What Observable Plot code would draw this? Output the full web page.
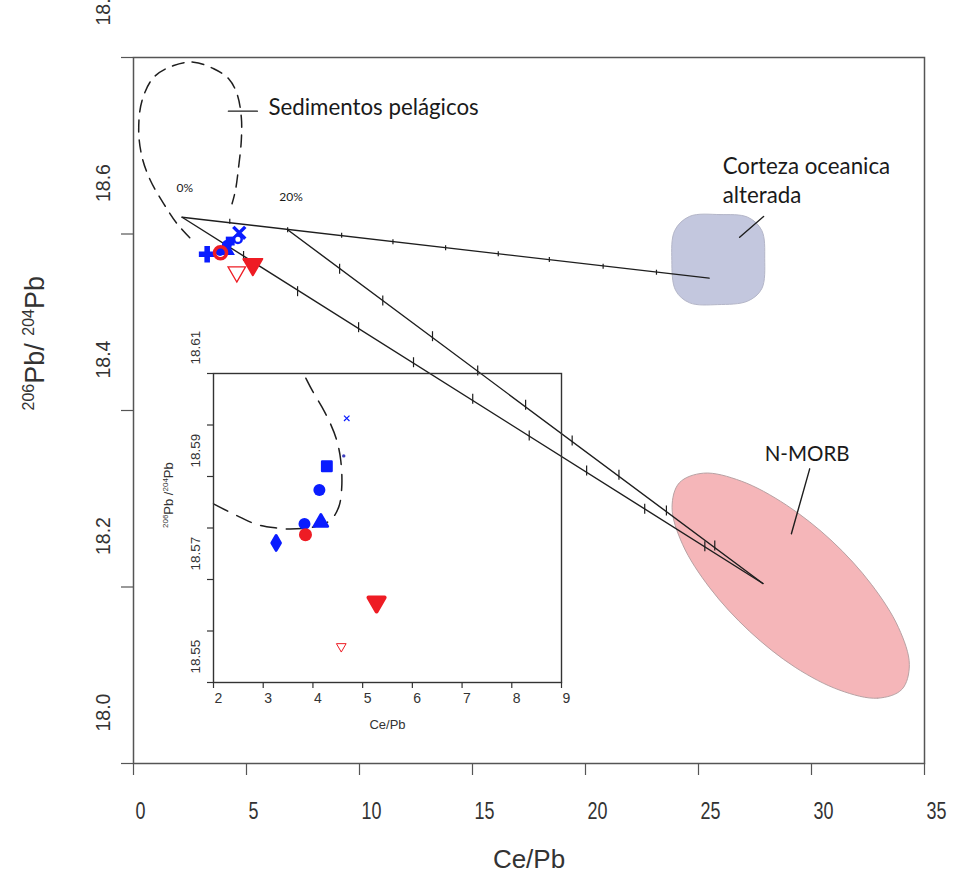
<!DOCTYPE html>
<html><head><meta charset="utf-8">
<script src="https://cdn.jsdelivr.net/npm/d3@7"></script>
<script src="https://cdn.jsdelivr.net/npm/@observablehq/plot@0.6"></script>
<style>
body{margin:0;background:#fff;}
#wrap{position:relative;width:956px;height:885px;overflow:hidden;}
#main{position:absolute;left:0;top:0;}
#inset{position:absolute;left:140px;top:340px;}
</style></head><body><div id="wrap"><div id="main"></div><div id="inset"></div></div>
<script>
// ---------- DATA ----------
// Samples (Ce/Pb, 206Pb/204Pb)
const muestraId = ["M1","M2","M3","M4","M5","M6","M7","M8","M9","M10"];
const muestraCePb = [3.26, 3.85, 3.83, 4.16, 4.13, 4.28, 4.68, 4.62, 5.28, 4.57];
const muestraPb = [18.5771, 18.5787, 18.5808, 18.5811, 18.5874, 18.5920, 18.6013, 18.5940, 18.5656, 18.5570];

// Mixing lines (end members)
const lineaAOC_x = [2.15, 25.47];
const lineaAOC_y = [18.619, 18.550];
const lineaMORB20_x = [6.82, 27.85];
const lineaMORB20_y = [18.6048, 18.204];
const lineaMORB0_x = [2.15, 27.85];
const lineaMORB0_y = [18.619, 18.204];

// 10% increments along the mixing lines
const marcasAOC_x = [4.26, 6.82, 9.21, 11.48, 13.81, 16.14, 18.40, 20.78, 23.14];
const marcasAOC_y = [18.6145, 18.6048, 18.5986, 18.5912, 18.5844, 18.5776, 18.5711, 18.5635, 18.5567];
const marcasMORB20_x = [9.12, 11.03, 13.23, 15.23, 17.35, 19.41, 21.48, 23.58, 25.72];
const marcasMORB20_y = [18.5606, 18.5246, 18.4842, 18.4453, 18.4065, 18.3660, 18.3271, 18.2867, 18.2470];
const marcasMORB0_x = [4.87, 7.26, 9.96, 12.39, 15.01, 17.51, 20.05, 22.62, 25.28];
const marcasMORB0_y = [18.5751, 18.5352, 18.4944, 18.4547, 18.4133, 18.3717, 18.3320, 18.2886, 18.2462];

// Pelagic sediment field (dashed outline), main plot
const sedimento_x = [2.49, 1.93, 1.34, 0.75, 0.38, 0.23, 0.38, 0.90, 1.78, 2.66, 3.55, 4.21, 4.58, 4.77, 4.77, 4.65, 4.51, 4.36];
const sedimento_y = [18.5957, 18.6116, 18.6342, 18.6606, 18.687, 18.7173, 18.7513, 18.7777, 18.7909, 18.7947, 18.7872, 18.7759, 18.7589, 18.7324, 18.706, 18.6757, 18.6493, 18.6342];
// Pelagic sediment field in the inset
const sedInset_x = [2.0, 2.47, 2.87, 3.28, 3.54, 4.01, 4.35, 4.52, 4.58, 4.56, 4.48, 4.35, 4.18, 3.98, 3.81];
const sedInset_y = [18.5847, 18.5824, 18.5807, 18.5800, 18.5798, 18.5802, 18.5815, 18.5841, 18.5880, 18.5931, 18.5970, 18.6003, 18.6035, 18.6068, 18.61];

// Altered oceanic crust field
const aoc_x = [24.61, 25.94, 27.18, 27.80, 27.93, 27.80, 27.18, 25.85, 24.61, 23.99, 23.82, 23.95];
const aoc_y = [18.620, 18.622, 18.619, 18.604, 18.572, 18.538, 18.524, 18.520, 18.522, 18.536, 18.570, 18.604];
// N-MORB field
const nmorb_x = [34.00, 32.93, 31.26, 29.28, 27.25, 25.50, 24.30, 23.83, 24.15, 25.22, 26.89, 28.88, 30.91, 32.65, 33.85, 34.33];
const nmorb_y = [18.084, 18.074, 18.083, 18.109, 18.150, 18.199, 18.248, 18.290, 18.318, 18.329, 18.320, 18.293, 18.252, 18.203, 18.154, 18.112];

// Labels
const etiquetaTexto = ["Sedimentos pelágicos", "Corteza oceanica\nalterada", "N-MORB", "0%", "20%"];
const etiquetaX = [5.97, 26.07, 27.93, 1.90, 6.45];
const etiquetaY = [18.7456, 18.6618, 18.3501, 18.6516, 18.6414];
// Leader lines
const guiaSed_x = [4.20, 5.48], guiaSed_y = [18.7392, 18.7392];
const guiaAOC_x = [26.82, 27.88], guiaAOC_y = [18.5964, 18.6198];
const guiaMORB_x = [29.11, 29.92], guiaMORB_y = [18.2603, 18.3339];

// Axes
const xTicks = [0, 5, 10, 15, 20, 25, 30, 35];
const yTicks = [18.0, 18.2, 18.4, 18.6, 18.8];
const insetXTicks = [2, 3, 4, 5, 6, 7, 8, 9];
const insetYTicks = [18.55, 18.56, 18.57, 18.58, 18.59, 18.60, 18.61];
const insetYLabels = [18.55, 18.57, 18.59, 18.61];
const tituloX = "Ce/Pb";
const tituloY = [["206", true], ["Pb/ ", false], ["204", true], ["Pb", false]];

// ---------- BUILD ----------
const zip = (xs, ys) => xs.map((x, i) => ({x, y: ys[i]}));
const muestras = muestraId.map((id, i) => ({id, x: muestraCePb[i], y: muestraPb[i]}));
const AZUL = "#0a1cff", ROJO = "#ee1c24", LINEA = "#1e1e1e";
const axisFont = "'Liberation Sans Narrow','Liberation Sans',Arial,sans-serif";
const insetFont = "'Liberation Sans',Arial,sans-serif";
const annFont = "Lato,'Open Sans',sans-serif";

const vtick = (h) => ({draw(ctx) { ctx.moveTo(0, -h); ctx.lineTo(0, h); }});
const downTri = {draw(ctx, size) {
  const y = -Math.sqrt(size / (Math.sqrt(3) * 3));
  ctx.moveTo(0, -2 * y);
  ctx.lineTo(-Math.sqrt(3) * y, y);
  ctx.lineTo(Math.sqrt(3) * y, y);
  ctx.closePath();
}};

const estiloPrincipal = {
  M1: {symbol: d3.symbolCross, r: 7, fill: AZUL},
  M3: {symbol: d3.symbolCircle, r: 5, fill: AZUL},
  M4: {symbol: d3.symbolTriangle, r: 5.5, fill: AZUL},
  M5: {symbol: d3.symbolCircle, r: 5, fill: AZUL},
  M6: {symbol: d3.symbolSquare, r: 5, fill: AZUL},
  M7: {symbol: d3.symbolTimes, r: 5.5, fill: "none", stroke: AZUL, strokeWidth: 3.5},
  M8: {symbol: d3.symbolCircle, r: 3.8, fill: "white", stroke: AZUL, strokeWidth: 2.5},
  M2: {symbol: d3.symbolCircle, r: 6, fill: "none", stroke: ROJO, strokeWidth: 3.5},
  M9: {symbol: downTri, r: 7, fill: ROJO, stroke: ROJO, strokeWidth: 2, strokeLinejoin: "round"},
  M10: {symbol: downTri, r: 6.5, fill: "white", stroke: ROJO, strokeWidth: 1.3}
};
const estiloInset = {
  M1: {symbol: d3.symbolDiamond, r: 4.5, fill: AZUL, stroke: AZUL, strokeWidth: 3, strokeLinejoin: "round"},
  M3: {symbol: d3.symbolCircle, r: 6, fill: AZUL},
  M4: {symbol: d3.symbolTriangle, r: 5.2, fill: AZUL, stroke: AZUL, strokeWidth: 2.5, strokeLinejoin: "round"},
  M5: {symbol: d3.symbolCircle, r: 6, fill: AZUL},
  M6: {symbol: d3.symbolSquare, r: 5.3, fill: AZUL, stroke: AZUL, strokeWidth: 2.5, strokeLinejoin: "round"},
  M7: {symbol: d3.symbolTimes, r: 2.6, fill: "none", stroke: AZUL, strokeWidth: 1.2},
  M8: {symbol: d3.symbolCircle, r: 1.7, fill: "#4040c0"},
  M2: {symbol: d3.symbolCircle, r: 6.5, fill: ROJO},
  M9: {symbol: downTri, r: 6, fill: ROJO, stroke: ROJO, strokeWidth: 4, strokeLinejoin: "round"},
  M10: {symbol: downTri, r: 3.6, fill: "none", stroke: ROJO, strokeWidth: 1}
};
const dotsFrom = (estilos) => Object.keys(estilos).map(id =>
  Plot.dot(muestras.filter(d => d.id === id), {x: "x", y: "y", ...estilos[id]}));

const etiquetas = etiquetaTexto.map((t, i) => ({t, x: etiquetaX[i], y: etiquetaY[i]}));
const yTitlePlain = tituloY.map(d => d[0]).join("");

const main = Plot.plot({
  width: 956, height: 885,
  marginLeft: 133, marginRight: 32, marginTop: 57, marginBottom: 122,
  x: {domain: [0, 35]},
  y: {domain: [18.0, 18.8]},
  style: {background: "white", overflow: "visible"},
  marks: [
    Plot.line(zip(nmorb_x, nmorb_y), {x: "x", y: "y", curve: "catmull-rom-closed", fill: "#f5b6b9", stroke: "#b8a2a4", strokeWidth: 1}),
    Plot.line(zip(aoc_x, aoc_y), {x: "x", y: "y", curve: "catmull-rom-closed", fill: "#c3c7de", stroke: "#b4b6c8", strokeWidth: 1}),
    Plot.line(zip(sedimento_x, sedimento_y), {x: "x", y: "y", curve: "catmull-rom", stroke: LINEA, strokeWidth: 1.5, strokeDasharray: "12,8"}),
    Plot.line(zip(lineaAOC_x, lineaAOC_y), {x: "x", y: "y", stroke: LINEA, strokeWidth: 1.4}),
    Plot.line(zip(lineaMORB20_x, lineaMORB20_y), {x: "x", y: "y", stroke: LINEA, strokeWidth: 1.4}),
    Plot.line(zip(lineaMORB0_x, lineaMORB0_y), {x: "x", y: "y", stroke: LINEA, strokeWidth: 1.4}),
    Plot.dot(zip(marcasAOC_x, marcasAOC_y), {x: "x", y: "y", symbol: vtick(2.5), fill: "none", stroke: LINEA, strokeWidth: 1.2}),
    Plot.dot(zip(marcasMORB20_x, marcasMORB20_y), {x: "x", y: "y", symbol: vtick(5), fill: "none", stroke: LINEA, strokeWidth: 1.2}),
    Plot.dot(zip(marcasMORB0_x, marcasMORB0_y), {x: "x", y: "y", symbol: vtick(5), fill: "none", stroke: LINEA, strokeWidth: 1.2}),
    Plot.line(zip(guiaSed_x, guiaSed_y), {x: "x", y: "y", stroke: LINEA, strokeWidth: 1.4}),
    Plot.line(zip(guiaAOC_x, guiaAOC_y), {x: "x", y: "y", stroke: LINEA, strokeWidth: 1.4}),
    Plot.line(zip(guiaMORB_x, guiaMORB_y), {x: "x", y: "y", stroke: LINEA, strokeWidth: 1.4}),
    Plot.text(etiquetas.slice(0, 2), {x: "x", y: "y", text: "t", textAnchor: "start", fontSize: 22.3, lineHeight: 1.27, fontFamily: annFont, fill: "#1a1a1a"}),
    Plot.text(etiquetas.slice(2, 3), {x: "x", y: "y", text: "t", textAnchor: "start", fontSize: 20.5, fontFamily: annFont, fill: "#1a1a1a"}),
    Plot.text(etiquetas.slice(3), {x: "x", y: "y", text: "t", textAnchor: "start", fontSize: 12, fontFamily: annFont, fill: "#1a1a1a"}),
    ...dotsFrom(estiloPrincipal),
    Plot.frame({stroke: "#555", strokeWidth: 1.5}),
    Plot.axisX({ticks: xTicks, tickSize: 12, tickFormat: () => "", label: null, stroke: "#555", strokeWidth: 1.2}),
    Plot.axisY({ticks: yTicks, tickSize: 12, tickFormat: () => "", label: null, stroke: "#555", strokeWidth: 1.2}),
    Plot.text(xTicks, {x: d => d, frameAnchor: "bottom", dy: 55, dx: 2, textAnchor: "start", text: d => String(d), fontSize: 23, fontFamily: axisFont, fill: "#333"}),
    Plot.text(yTicks, {y: d => d, frameAnchor: "left", dx: -30, dy: -32, rotate: -90, text: d => d.toFixed(1), fontSize: 19.5, fontFamily: axisFont, fill: "#333"}),
    Plot.text([tituloX], {frameAnchor: "bottom", dy: 104, text: d => d, fontSize: 26, fontFamily: axisFont, fill: "#333"}),
    Plot.text([yTitlePlain], {frameAnchor: "left", dx: -98, rotate: -90, text: d => d, fontSize: 26, fontFamily: axisFont, fill: "#333"})
  ]
});
document.getElementById("main").append(main);

const inset = Plot.plot({
  width: 440, height: 400,
  marginLeft: 73, marginRight: 19, marginTop: 33, marginBottom: 58,
  x: {domain: [2, 9]},
  y: {domain: [18.55, 18.61]},
  style: {background: "transparent", overflow: "visible"},
  marks: [
    Plot.line(zip(sedInset_x, sedInset_y), {x: "x", y: "y", curve: "catmull-rom", stroke: LINEA, strokeWidth: 1.5, strokeDasharray: "16,10"}),
    ...dotsFrom(estiloInset),
    Plot.frame({stroke: "#333", strokeWidth: 1.4}),
    Plot.axisX({ticks: insetXTicks, tickSize: 6, tickFormat: () => "", label: null, stroke: "#333", strokeWidth: 1.2}),
    Plot.axisY({ticks: insetYTicks, tickSize: 6, tickFormat: () => "", label: null, stroke: "#333", strokeWidth: 1.2}),
    Plot.text(insetXTicks, {x: d => d, frameAnchor: "bottom", dy: 20, dx: 1, textAnchor: "start", text: d => String(d), fontSize: 14, fontFamily: insetFont, fill: "#333"}),
    Plot.text(insetYLabels, {y: d => d, frameAnchor: "left", dx: -18, dy: -9, rotate: -90, text: d => d.toFixed(2), fontSize: 13.5, fontFamily: insetFont, fill: "#333"}),
    Plot.text([tituloX], {frameAnchor: "bottom", dy: 46, text: d => d, fontSize: 13, fontFamily: insetFont, fill: "#333"}),
    Plot.text([yTitlePlain], {frameAnchor: "left", dx: -45, rotate: -90, text: d => d, fontSize: 13, fontFamily: insetFont, fill: "#333"})
  ]
});
document.getElementById("inset").append(inset);

// Narrow (condensed) look for the horizontal x tick labels only
function squeeze(el, k) {
  const x = +(el.getAttribute("x") || 0), y = +(el.getAttribute("y") || 0);
  const tr = el.getAttribute("transform") || "";
  el.setAttribute("transform", `${tr} translate(${x},${y}) scale(${k},1) translate(${-x},${-y})`.trim());
}
const xLabelSet = new Set(xTicks.map(String));
d3.select(main).selectAll("text").each(function() {
  if (xLabelSet.has(this.textContent)) squeeze(this, 0.78);
});

// Superscripted isotope titles (no transform changes)
function isotopeTitle(svg, big, small, shift, gap) {
  d3.select(svg).selectAll("text").filter(function() { return this.textContent === yTitlePlain; })
    .each(function() {
      const t = d3.select(this).text(null);
      let up = false;
      tituloY.forEach(([s, sup]) => {
        const ts = t.append("tspan").text(gap && s === "Pb/ " ? "Pb /" : s)
          .attr("font-size", sup ? small : big);
        if (sup && !up) { ts.attr("dy", -shift); up = true; }
        else if (!sup && up) { ts.attr("dy", shift); up = false; }
      });
    });
}
isotopeTitle(main, 27, 16, 10, false);
isotopeTitle(inset, 13, 8, 5, true);
</script></body></html>
